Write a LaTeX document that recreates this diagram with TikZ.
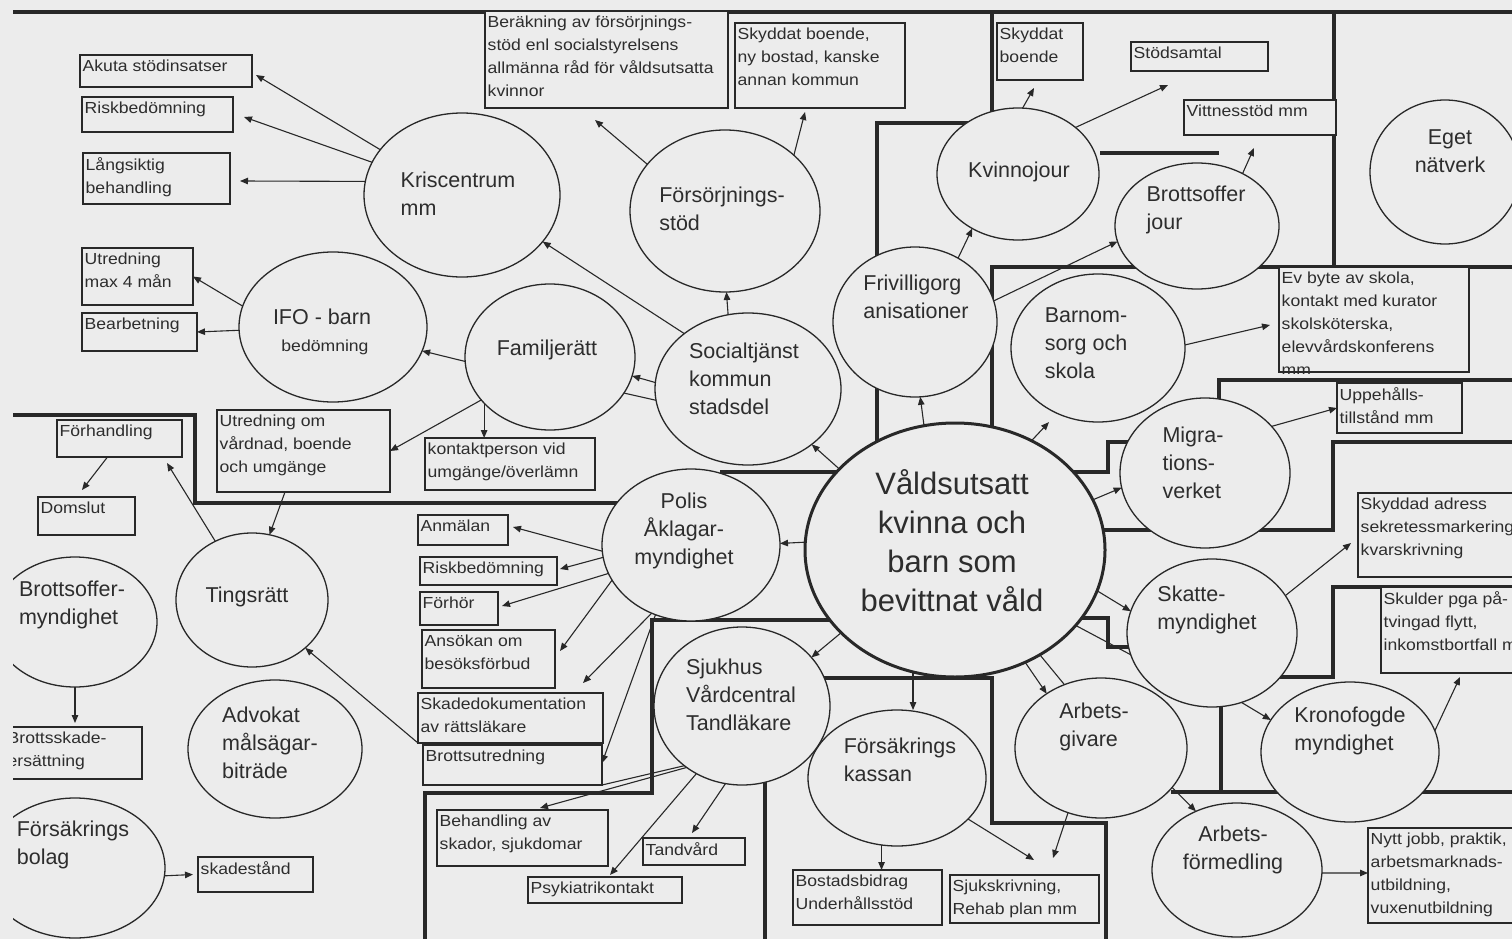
\documentclass[tikz,border=0pt]{standalone}
\usepackage{fontspec}
\setmainfont{Liberation Sans}
\newfontfamily\bxfam[FakeStretch=1.1]{Liberation Sans}
\usetikzlibrary{arrows.meta,shapes.geometric,calc}
\definecolor{bgc}{RGB}{236,236,236}
\definecolor{lnc}{RGB}{40,40,40}
\definecolor{txc}{RGB}{45,45,45}
\newcommand\bxfont{\bxfam\fontsize{16}{23}\selectfont}
\newcommand\elfont{\fontsize{21.5}{28}\selectfont}
\newcommand\wdfont{\fontsize{31}{39}\selectfont}
\newcommand\bx[6]{%
 \node[boxst, minimum width={(#4)-(#2)}, minimum height={(#5)-(#3)}, anchor=north west] (#1) at (#2,#3) {};
 \node[boxtxt] (#1-t) at (#1.north west) {#6};}
\newcommand\el[5]{\node[ellst, minimum width={2*(#4)}, minimum height={2*(#5)}] (#1) at (#2,#3) {};}
\begin{document}
\begin{tikzpicture}[x=1pt,y=-1pt,
  reg/.style={draw=lnc, line width=3.2pt},
  boxst/.style={draw=lnc, line width=1.6pt, fill=bgc, inner sep=0pt, outer sep=0pt},
  boxtxt/.style={anchor=north west, align=left, inner xsep=2.5pt, inner ysep=4.5pt, font=\bxfont, text=txc},
  ellst/.style={ellipse, draw=lnc, line width=1.3pt, fill=bgc, inner sep=0pt, outer sep=0pt},
  lbl/.style={font=\elfont, align=left, inner sep=0pt, text=txc},
  arr/.style={draw=lnc, line width=1.1pt, -{Triangle[length=8pt,width=6.5pt]}},
  conn/.style={draw=lnc, line width=1.1pt}]
\useasboundingbox (0,0) rectangle (1512,939);
\fill[bgc] (0,0) rectangle (1512,939);
\begin{scope}
\clip (13,0) rectangle (1512,939);
% ---------- region lines
\draw[reg] (13,12) -- (1512,12);
\draw[reg] (13,415) -- (195,415) -- (195,503) -- (625,503);
\draw[reg] (720,472) -- (840,472);
\draw[reg] (1000,123) -- (877,123) -- (877,442);
\draw[reg] (992,12) -- (992,120);
\draw[reg] (1334,12) -- (1334,267);
\draw[reg] (1512,267) -- (992,267) -- (992,430);
\draw[reg] (1100,153) -- (1219,153);
\draw[reg] (1219,402) -- (1219,380) -- (1512,380);
\draw[reg] (1070,472) -- (1108,472) -- (1108,442) -- (1135,442);
\draw[reg] (1095,530) -- (1333,530) -- (1333,442) -- (1512,442);
\draw[reg] (1080,618) -- (1108,618) -- (1108,647) -- (1135,647);
\draw[reg] (1512,587) -- (1333,587) -- (1333,677) -- (1275,677);
\draw[reg] (1221,703) -- (1221,792);
\draw[reg] (1171,792) -- (1512,792);
\draw[reg] (820,678) -- (992,678) -- (992,823) -- (1106,823) -- (1106,939);
\draw[reg] (765,780) -- (765,939);
\draw[reg] (830,620) -- (652,620) -- (652,793) -- (425,793) -- (425,939);
% ---------- boxes
\bx{akuta}{80}{55}{252}{87}{Akuta stödinsatser}
\bx{riskA}{82}{97}{233}{132}{Riskbedömning}
\bx{lang}{83}{153}{230}{204}{Långsiktig\\behandling}
\bx{utrA}{82}{248}{193}{305}{Utredning\\max 4 mån}
\bx{bearb}{82}{313}{197}{351}{Bearbetning}
\bx{berak}{485}{11}{728}{108}{Beräkning av försörjnings-\\stöd enl socialstyrelsens\\allmänna råd för våldsutsatta\\kvinnor}
\bx{skbA}{735}{23}{905}{108}{Skyddat boende,\\ny bostad, kanske\\annan kommun}
\bx{skbB}{997}{23}{1083}{80}{Skyddat\\boende}
\bx{stod}{1131}{42}{1268}{71}{Stödsamtal}
\bx{vitt}{1184}{100}{1336}{135}{Vittnesstöd mm}
\node[boxst, minimum width=190, minimum height=105, anchor=north west] (evb) at (1279,267) {};
\begin{scope}
\clip (1279,267) rectangle (1469,373);
\node[boxtxt] (evb-t) at (evb.north west) {Ev byte av skola,\\kontakt med kurator\\skolsköterska,\\elevvårdskonferens\\mm};
\end{scope}
\draw[lnc, line width=1.6pt] (evb.south west) -- (evb.south east);
\bx{upp}{1337}{383}{1462}{433}{Uppehålls-\\tillstånd mm}
\bx{skyd}{1358}{493}{1530}{577}{Skyddad adress\\sekretessmarkering\\ kvarskrivning}
\bx{skul}{1381}{587}{1530}{673}{Skulder pga på-\\tvingad flytt,\\inkomstbortfall mm}
\bx{nytt}{1368}{828}{1530}{923}{Nytt jobb, praktik,\\arbetsmarknads-\\utbildning,\\vuxenutbildning}
\bx{sjsk}{950}{875}{1099}{923}{Sjukskrivning,\\Rehab plan mm}
\bx{bost}{793}{870}{942}{925}{Bostadsbidrag\\Underhållsstöd}
\bx{tand}{643}{838}{745}{865}{Tandvård}
\bx{psyk}{528}{877}{682}{903}{Psykiatrikontakt}
\bx{beh}{437}{810}{608}{866}{Behandling av\\skador, sjukdomar}
\bx{skad}{418}{693}{603}{743}{Skadedokumentation\\av rättsläkare}
\bx{brut}{423}{745}{602}{785}{Brottsutredning}
\bx{ansok}{422}{630}{555}{688}{Ansökan om\\besöksförbud}
\bx{forhor}{420}{592}{498}{625}{Förhör}
\bx{riskB}{420}{557}{557}{585}{Riskbedömning}
\bx{anm}{418}{515}{508}{545}{Anmälan}
\bx{kontakt}{425}{438}{595}{490}{kontaktperson vid\\umgänge/överlämn}
\bx{utrV}{217}{410}{390}{492}{Utredning om\\vårdnad, boende\\och umgänge}
\bx{forh}{57}{420}{182}{457}{Förhandling}
\bx{dom}{38}{497}{135}{535}{Domslut}
\bx{bsk}{5}{727}{142}{779}{Brottsskade-\\ersättning}
\bx{sdst}{198}{857}{313}{892}{skadestånd}
% ---------- ellipses
\el{kris}{462}{195}{98}{82}
\el{fors}{725}{211}{95}{81}
\el{kvinno}{1018}{174}{81}{66}
\el{brottj}{1197}{226}{82}{63}
\el{eget}{1445}{172}{75}{72}
\el{friv}{915}{322}{82}{75}
\el{barn}{1098}{348}{87}{74}
\el{migra}{1205}{473}{85}{75}
\el{ifo}{333}{327}{94}{75}
\el{fam}{550}{357}{85}{73}
\el{soc}{748}{389}{93}{76}
\el{polis}{691}{545}{89}{76}
\el{ting}{252}{600}{76}{67}
\el{bom}{75}{622}{82}{65}
\el{adv}{275}{749}{87}{69}
\el{fbol}{75}{868}{90}{70}
\el{sjuk}{742}{706}{88}{79}
\el{fk}{897}{778}{89}{68}
\el{ag}{1101}{748}{86}{70}
\el{skatte}{1212}{633}{85}{74}
\el{krono}{1350}{752}{89}{70}
\el{af}{1237}{870}{85}{67}
\node[ellst, line width=3pt, minimum width=300, minimum height=254] (wald) at (955,550) {};
% ---------- connectors
\draw[arr] (kris.151) -- ([xshift=4pt,yshift=-4pt]akuta.east);
\draw[arr] (kris.160) -- ([xshift=11pt,yshift=-2.5pt]riskA.east);
\draw[arr] (kris.172) -- ([xshift=10pt,yshift=-2.5pt]lang.east);
\draw[arr] (ifo.167) -- (utrA.east);
\draw[arr] (ifo.182) -- (bearb.east);
\draw[arr] (fam.183) -- (ifo.-15);
\draw[arr] (fam.212) -- (utrV.east);
\draw[arr] (fam.215) -- (fam.215 |- kontakt.north);
\draw[arr] (soc.176) -- (fam.-13);
\draw[conn] (soc.187) -- (fam.-26);
\draw[arr] (soc.139) -- (kris.-30);
\draw[arr] (soc.105) -- (fors.-89);
\draw[arr] (fors.149) -- ([xshift=-11.5pt,yshift=-12pt]berak.south);
\draw[arr] (fors.39) -- ([xshift=-15pt,yshift=-4pt]skbA.south);
\draw[arr] (kvinno.86) -- ([xshift=-6pt,yshift=-8pt]skbB.south);
\draw[arr] (kvinno.39) -- ([xshift=-31.5pt,yshift=-14pt]stod.south);
\draw[arr] (brottj.49) -- ([xshift=-6pt,yshift=-13pt]vitt.south);
\draw[arr] (friv.56) -- (kvinno.230);
\draw[arr] (friv.15) -- (brottj.191);
\draw[arr] (barn.2) -- ([xshift=-9pt,yshift=-5.5pt]evb.west);
\draw[arr] (migra.35) -- (upp.west);
\draw[arr] (wald.145.8) -- (soc.-41.5);
\draw[arr] (wald.177) -- (polis.1);
\draw[arr] (wald.104) -- (friv.-86);
\draw[arr, shorten >=12pt] (wald.55) -- (barn.238);
\draw[arr] (wald.20) -- (migra.190);
\draw[arr] (wald.-16.6) -- (skatte.165);
\draw[conn] (wald.-32) -- (skatte.195);
\draw[arr] (wald.216.6) -- (sjuk.35);
\draw[arr] (wald.251) -- (wald.251 |- fk.north);
\draw[arr] (wald.-58) -- (ag.135);
\draw[conn] (wald.-51.5) -- (ag.120.6);
\draw[arr] (polis.184) -- ([xshift=5pt,yshift=3pt]anm.east);
\draw[arr] (polis.188) -- ([xshift=3pt,yshift=2pt]riskB.east);
\draw[arr] (polis.199) -- ([xshift=4pt,yshift=2.5pt]forhor.east);
\draw[arr] (polis.204) -- ([xshift=5pt,yshift=8pt]ansok.east);
\draw[arr] (polis.240) -- ([xshift=-20pt,yshift=10pt]skad.north east);
\draw[arr] (polis.243) -- ([yshift=2pt]brut.east);
\draw[conn] (sjuk.226) -- (brut.south east);
\draw[arr] (sjuk.228) -- ([xshift=17.5pt,yshift=2pt]beh.north);
\draw[arr] (sjuk.236) -- ([xshift=5pt,yshift=2pt]psyk.north);
\draw[arr] (sjuk.258) -- ([xshift=-2pt,yshift=5pt]tand.north);
\draw[arr] (skad.south west) -- (ting.-42);
\draw[arr] (ting.122) -- ([xshift=47.5pt,yshift=-6pt]forh.south);
\draw[arr] ([xshift=-12pt]forh.south) -- ([xshift=-4.5pt,yshift=7pt]dom.north);
\draw[arr] ([xshift=-18.5pt]utrV.south) -- (ting.75);
\draw[arr] (bom.south) -- ([yshift=4pt]bom.south |- bsk.north);
\draw[arr] (fbol.-5) -- ([xshift=-5pt]sdst.west);
\draw[arr] (skatte.27) -- ([xshift=-7pt,yshift=-8pt]skyd.west);
\draw[arr] (skatte.-67) -- (krono.158);
\draw[arr] (krono.14.5) -- ([xshift=4.5pt,yshift=-4pt]skul.south);
\draw[arr] (ag.-29) -- (af.125);
\draw[arr] (ag.243) -- ([xshift=28.5pt,yshift=17pt]sjsk.north);
\draw[arr] (fk.-30) -- ([xshift=9.5pt,yshift=15pt]sjsk.north);
\draw[arr] (fk.257) -- (fk.257 |- bost.north);
\draw[arr] (af.-2) -- ([yshift=2.5pt]nytt.west);
% ---------- labels
\node[lbl] (kris-t) at (458,194) {Kriscentrum\\mm};
\node[lbl] (fors-t) at (722,209) {Försörjnings-\\stöd};
\node[lbl] (kvinno-t) at (1019,172) {Kvinnojour};
\node[lbl] (brottj-t) at (1196,210) {Brottsoffer\\jour};
\node[lbl, align=center] (eget-t) at (1450,151) {Eget\\nätverk};
\node[lbl] (friv-t) at (916,297) {Frivilligorg\\anisationer};
\node[lbl] (barn-t) at (1086,343) {Barnom-\\sorg och\\skola};
\node[lbl] (migra-t) at (1193,463) {Migra-\\tions-\\verket};
\node[lbl] (ifo-t) at (322,317) {IFO - barn};
\node[boxtxt, anchor=center] (ifo-t2) at (325,347) {bedömning};
\node[lbl] (fam-t) at (547,350) {Familjerätt};
\node[lbl] (soc-t) at (744,379) {Socialtjänst\\kommun\\stadsdel};
\node[lbl, font=\wdfont, align=center] (wald-t) at (952,541) {Våldsutsatt\\kvinna och\\barn som\\bevittnat våld};
\node[lbl, align=center] (polis-t) at (684,531) {Polis\\Åklagar-\\myndighet};
\node[lbl] (ting-t) at (247,597) {Tingsrätt};
\node[lbl] (bom-t) at (72,605) {Brottsoffer-\\myndighet};
\node[lbl] (adv-t) at (270,743) {Advokat\\målsägar-\\biträde};
\node[lbl] (fbol-t) at (73,845) {Försäkrings\\bolag};
\node[lbl] (sjuk-t) at (741,695) {Sjukhus\\Vårdcentral\\Tandläkare};
\node[lbl] (fk-t) at (900,760) {Försäkrings\\kassan};
\node[lbl] (ag-t) at (1094,727) {Arbets-\\givare};
\node[lbl] (skatte-t) at (1207,610) {Skatte-\\myndighet};
\node[lbl] (krono-t) at (1350,731) {Kronofogde\\myndighet};
\node[lbl, align=center] (af-t) at (1233,850) {Arbets-\\förmedling};
\end{scope}
\end{tikzpicture}
\end{document}
